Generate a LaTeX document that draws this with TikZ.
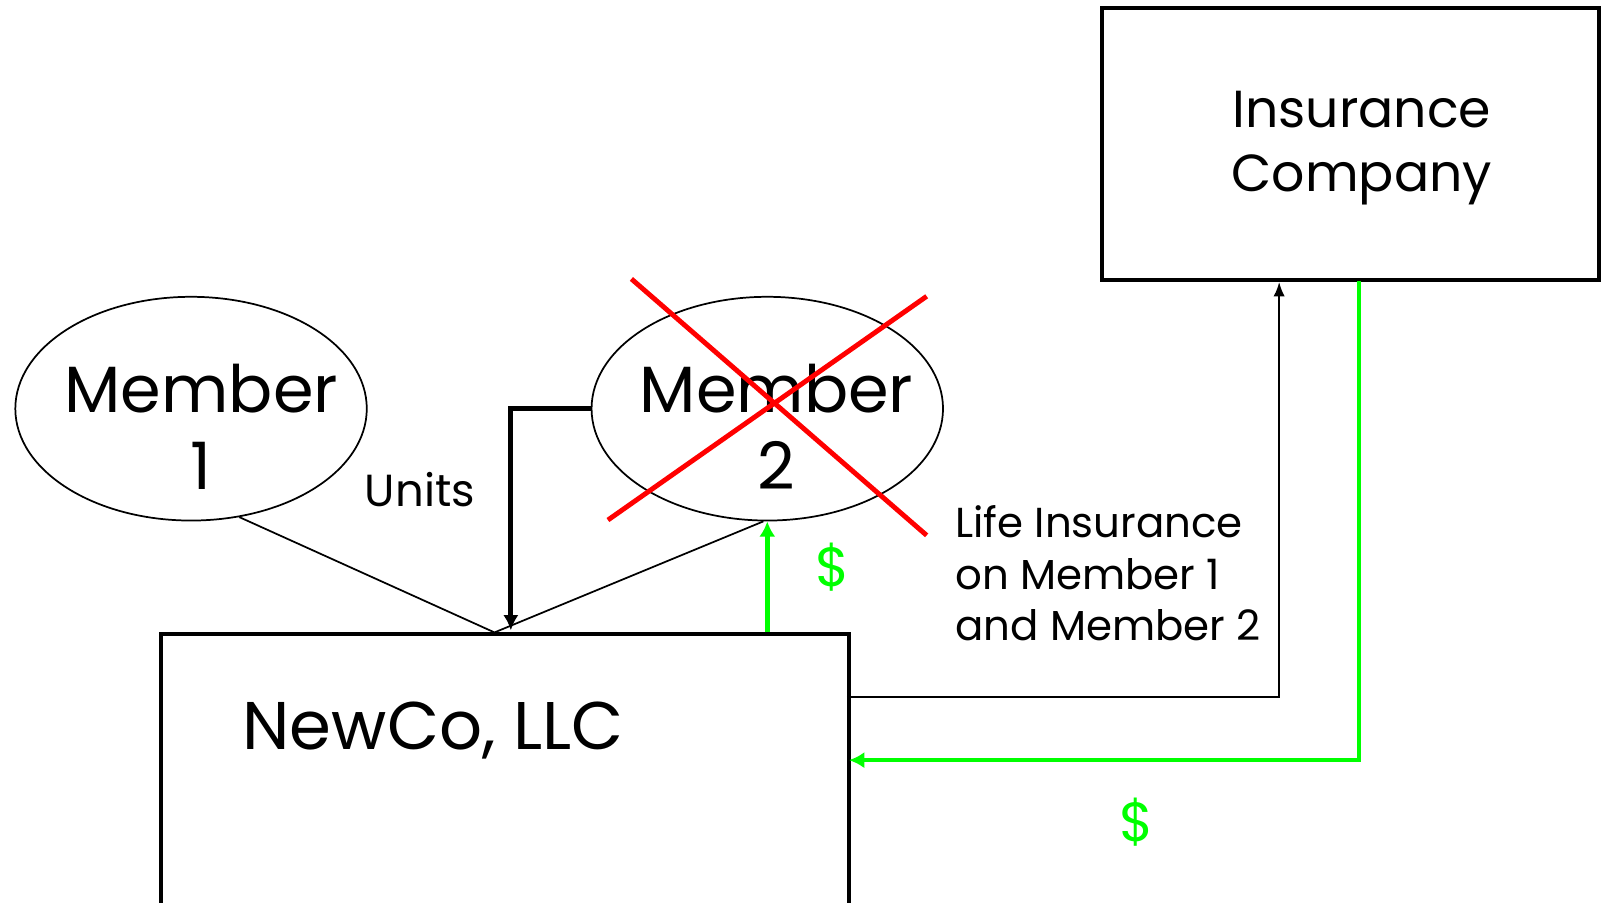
\documentclass[tikz,border=0pt]{standalone}
\usepackage{fontspec}
\setmainfont{Poppins}
\usetikzlibrary{shapes.geometric,arrows.meta}
\definecolor{brgreen}{RGB}{0,255,0}
\definecolor{xred}{RGB}{255,0,0}
\begin{document}
\begin{tikzpicture}[x=1pt,y=-1pt,
  member/.style={ellipse,draw,line width=1.7pt,minimum width=344pt,minimum height=219pt,inner sep=0pt},
  boxn/.style={draw,line width=3.8pt,inner sep=0pt},
  thinline/.style={line width=1.7pt},
  thickarrow/.style={line width=4.6pt,-{Latex[length=15pt,width=15pt]}},
  thinarrow/.style={line width=2pt,-{Latex[length=14pt,width=11pt]}},
  greenarrow/.style={brgreen,line width=4.6pt,-{Latex[length=15pt,width=16pt]}},
  crossline/.style={xred,line width=4.8pt},
  bigtext/.style={font=\fontsize{64}{75}\selectfont,align=center,inner sep=0pt},
  midtext/.style={font=\fontsize{41}{50}\selectfont,align=left,inner sep=0pt},
  dollar/.style={brgreen,font=\fontsize{54}{60}\selectfont,inner sep=0pt}
]
\useasboundingbox (0,0) rectangle (1568,883);
\clip (0,0) rectangle (1568,883);

% boxes
\node[boxn,minimum width=486pt,minimum height=266pt] (ins) at (1322,141) {};
\node[font=\fontsize{51}{62}\selectfont,align=center,inner sep=0pt] (inst) at (1333,145) {Insurance\\Company};

\node[boxn,minimum width=673pt,minimum height=400pt,anchor=north west] (newco) at (156,619) {};
\node[font=\fontsize{66}{75}\selectfont,inner sep=0pt] (newcot) at (424,715) {NewCo, LLC};

% members
\node[member] (m1) at (187,400) {};
\node[bigtext] (m1t) at (197,418) {Member\\1};
\node[member] (m2) at (751,400) {};
\node[bigtext] (m2t) at (760,418) {Member\\2};

% labels
\node[font=\fontsize{44}{50}\selectfont,inner sep=0pt] (units) at (411,479) {Units};
\node[midtext,anchor=north west] (life) at (935,495) {Life Insurance\\on Member 1\\and Member 2};
\node[dollar] (d1) at (815,555) {\$};
\node[dollar] (d2) at (1113,805) {\$};

% coordinates
\coordinate (j) at (484,619);
\coordinate (k) at (500,617);
\coordinate (g1) at (751,619);
\coordinate (nb) at (829,682);
\coordinate (ng) at (831,744);
\coordinate (ib) at (1252,276);
\coordinate (ig) at (1330,275);

% connectors
\draw[thinline] (m1.-66) -- (j) -- (m2.-92);
\draw[thickarrow] (m2.west) -- (500,400) -- (k);
\draw[greenarrow] (g1) -- (m2.south);
\draw[thinarrow] (nb) -| (ib);
\draw[greenarrow] (ig) |- (ng);

% red cross
\coordinate (x1a) at (618,273);
\coordinate (x1b) at (907,524);
\coordinate (x2a) at (907,290);
\coordinate (x2b) at (595,509);
\draw[crossline] (x1a) -- (x1b);
\draw[crossline] (x2a) -- (x2b);
\end{tikzpicture}
\end{document}
